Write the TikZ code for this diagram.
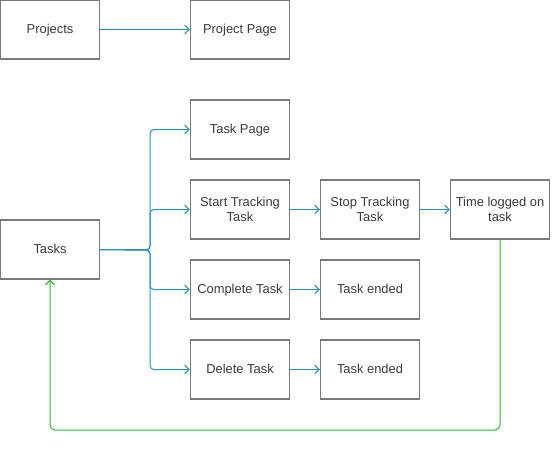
\documentclass[tikz,border=0pt]{standalone}
\usepackage{fontspec}
\setmainfont{Liberation Sans}
\usetikzlibrary{arrows.meta}
\definecolor{boxline}{HTML}{7A7A7A}
\definecolor{txt}{HTML}{3A3A3A}
\definecolor{blueline}{HTML}{2A8FBD}
\definecolor{greenline}{HTML}{33B233}
\newcommand\lowr[1]{\raisebox{-1.5pt}[\height][\depth]{\begin{tabular}{@{}c@{}}#1\end{tabular}}}
\tikzset{
  box/.style={draw=boxline, line width=1.3pt, minimum width=99pt, minimum height=59pt,
    inner sep=0pt, align=center, text=txt, font=\fontsize{12.9}{14.5}\selectfont},
  bluearrow/.style={draw=blueline, line width=1pt, rounded corners=4pt,
    -{Straight Barb[length=4.5pt,width=9pt,line width=1pt]}},
  greenarrow/.style={draw=greenline, line width=1pt, rounded corners=5pt,
    -{Straight Barb[length=4.5pt,width=9pt,line width=1pt]}}
}
\begin{document}
\begin{tikzpicture}[x=1pt,y=-1pt]
\useasboundingbox (0,0) rectangle (559,452);
\node[box] (projects) at (50,29.5) {\lowr{Projects}};
\node[box] (projpage) at (240,29.5) {\lowr{Project Page}};
\node[box] (taskpage) at (240,129.5) {\lowr{Task Page}};
\node[box] (start) at (240,209.5) {\lowr{Start Tracking\\Task}};
\node[box] (stop) at (370,209.5) {\lowr{Stop Tracking\\Task}};
\node[box] (logged) at (500,209.5) {\lowr{Time logged on\\task}};
\node[box] (tasks) at (50,249.5) {\lowr{Tasks}};
\node[box] (complete) at (240,289.5) {\lowr{Complete Task}};
\node[box] (ended1) at (370,289.5) {\lowr{Task ended}};
\node[box] (delete) at (240,369.5) {\lowr{Delete Task}};
\node[box] (ended2) at (370,369.5) {\lowr{Task ended}};
\coordinate (junc) at (150,250);
\coordinate (gbr) at (500,430);
\coordinate (gbl) at (50,430);
\draw[bluearrow] (projects) -- (projpage);
\draw[bluearrow] (tasks.east) -- (junc) |- (taskpage.west);
\draw[bluearrow] (tasks.east) -- (junc) |- (start.west);
\draw[bluearrow] (tasks.east) -- (junc) |- (complete.west);
\draw[bluearrow] (tasks.east) -- (junc) |- (delete.west);
\draw[bluearrow] (start) -- (stop);
\draw[bluearrow] (stop) -- (logged);
\draw[bluearrow] (complete) -- (ended1);
\draw[bluearrow] (delete) -- (ended2);
\draw[greenarrow] (logged.south) -- (gbr) -- (gbl) -- (tasks.south);
\end{tikzpicture}
\end{document}
